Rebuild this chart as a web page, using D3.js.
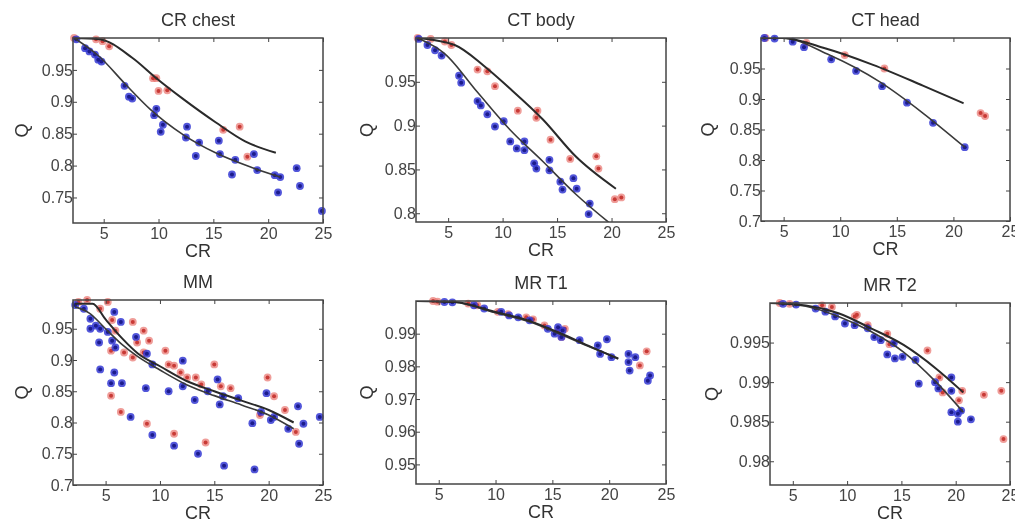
<!DOCTYPE html>
<html>
<head>
<meta charset="utf-8">
<script src="https://cdn.jsdelivr.net/npm/d3@7"></script>
<style>
  body { margin: 0; background: #fff; }
  svg { display: block; font-family: "Liberation Sans", Arial, sans-serif; filter: blur(0.45px); }
</style>
</head>
<body>
<svg id="chart" width="1034" height="524"></svg>
<script>
// ---- data: [CR, Q] ----
const titles = ['CR chest', 'CT body', 'CT head', 'MM', 'MR T1', 'MR T2'];
const xTicks = [5, 10, 15, 20, 25];

const chestRed = [[2.3,1.0],[4.3,0.998],[4.9,0.995],[5.5,0.987],[9.5,0.937],[9.8,0.937],[10.0,0.917],[10.8,0.918],
  [15.9,0.856],[17.4,0.861],[18.1,0.814]];
const chestBlue = [[2.5,0.998],[3.3,0.984],[3.7,0.979],[4.2,0.974],[4.5,0.966],[4.8,0.963],[6.9,0.925],[7.3,0.908],
  [7.6,0.905],[9.8,0.889],[9.6,0.879],[10.4,0.864],[10.2,0.853],[12.6,0.861],[12.5,0.844],[13.7,0.836],[13.4,0.815],
  [15.5,0.839],[15.6,0.818],[16.7,0.786],[17.0,0.809],[18.7,0.818],[19.0,0.793],[20.6,0.785],[21.1,0.782],
  [20.9,0.758],[22.6,0.796],[22.9,0.768],[24.9,0.729]];
const chestRedFit = [[2.3,1.0],[4.6,0.998],[7.6,0.969],[9.8,0.937],[12.2,0.905],[15.2,0.868],[17.9,0.838],[20.7,0.82]];
const chestBlueFit = [[2.3,1.0],[4.6,0.971],[6.9,0.929],[9.2,0.889],[12.2,0.849],[15.2,0.82],[18.5,0.797],[21.1,0.782]];

const bodyRed = [[2.2,1.0],[3.4,0.999],[4.7,0.996],[5.3,0.992],[7.7,0.964],[8.6,0.962],[9.3,0.945],[11.4,0.917],
  [13.2,0.917],[13.1,0.909],[14.4,0.884],[16.2,0.862],[18.6,0.865],[18.8,0.851],[20.3,0.816],[20.9,0.818]];
const bodyBlue = [[2.3,0.999],[3.1,0.992],[3.8,0.986],[4.4,0.98],[6.0,0.957],[6.2,0.949],[7.7,0.928],[8.0,0.923],
  [8.6,0.913],[9.3,0.899],[10.1,0.905],[10.7,0.882],[11.3,0.874],[12.0,0.882],[12.0,0.872],[12.9,0.857],[13.1,0.851],
  [14.3,0.861],[14.3,0.849],[15.3,0.836],[15.5,0.827],[16.5,0.84],[16.8,0.828],[18.0,0.811],[17.9,0.799]];
const bodyRedFit = [[2.2,1.0],[5.6,0.992],[8.3,0.968],[10.7,0.942],[13.7,0.907],[16.7,0.865],[20.4,0.828]];
const bodyBlueFit = [[2.2,1.0],[4.7,0.982],[7.7,0.938],[10.7,0.895],[13.7,0.859],[16.7,0.822],[20.2,0.785]];

const headRed = [[3.4,1.0],[7.0,0.992],[10.4,0.972],[13.9,0.95],[22.4,0.877],[22.8,0.872]];
const headBlue = [[3.3,1.0],[4.2,0.999],[5.8,0.994],[6.8,0.985],[9.2,0.965],[11.4,0.946],[13.7,0.921],[15.9,0.894],
  [18.2,0.861],[21.0,0.821]];
const headRedFit = [[3,1.0],[4.9,1.0],[8.5,0.984],[12.9,0.956],[17.3,0.922],[20.9,0.893]];
const headBlueFit = [[3,1.0],[4.9,1.0],[9.05,0.972],[13.5,0.928],[17.3,0.877],[21,0.821]];

const mmRed = [[2.5,0.993],[3.3,0.996],[5.2,0.993],[4.5,0.982],[5.6,0.964],[5.9,0.947],[7.5,0.961],[8.5,0.947],
  [9.0,0.931],[7.9,0.928],[5.5,0.915],[6.7,0.912],[7.5,0.904],[8.5,0.912],[10.5,0.915],[10.8,0.893],[11.3,0.891],
  [11.9,0.88],[12.5,0.872],[13.3,0.872],[13.8,0.861],[15.0,0.893],[15.6,0.858],[16.5,0.855],[5.5,0.843],[6.4,0.817],
  [8.8,0.798],[11.3,0.782],[14.2,0.768],[19.9,0.872],[20.5,0.842],[21.5,0.82],[19.2,0.812],[22.5,0.785]];
const mmBlue = [[2.2,0.988],[3.0,0.982],[3.6,0.966],[4.1,0.955],[3.6,0.95],[4.5,0.95],[5.2,0.945],[5.8,0.977],
  [6.4,0.961],[5.6,0.931],[5.9,0.92],[4.4,0.928],[4.5,0.885],[5.8,0.88],[5.5,0.863],[6.5,0.863],[7.3,0.809],
  [7.8,0.937],[8.8,0.91],[9.3,0.893],[8.7,0.855],[9.3,0.78],[10.8,0.85],[11.3,0.763],[12.1,0.899],[12.1,0.858],
  [13.2,0.836],[13.5,0.75],[14.4,0.85],[15.3,0.869],[15.5,0.829],[15.8,0.842],[15.9,0.731],[17.2,0.839],[18.5,0.799],
  [18.7,0.725],[19.8,0.847],[19.3,0.817],[20.5,0.809],[20.2,0.804],[21.8,0.79],[22.7,0.826],[22.8,0.766],
  [23.2,0.798],[24.7,0.809]];
const mmRedFit = [[2.2,0.99],[3.8,0.99],[5,0.965],[6.5,0.935],[8,0.91],[10,0.89],[12.5,0.866],[15,0.85],
  [17.5,0.835],[20,0.82],[22.3,0.8]];
const mmBlueFit = [[2.2,0.985],[3.5,0.975],[5,0.95],[6.5,0.925],[8,0.905],[10,0.884],[12.5,0.86],[15,0.843],
  [17.5,0.828],[20,0.812],[22.3,0.79]];

const t1Red = [[4.5,1.0],[4.9,0.9998],[7.6,0.9992],[8.4,0.9987],[10.2,0.9967],[11.1,0.996],[12.7,0.995],[13.3,0.9944],
  [14.3,0.9925],[15.5,0.991],[15.8,0.989],[16.1,0.9915],[22.7,0.9803],[23.3,0.9846]];
const t1Blue = [[5.5,0.9997],[6.2,0.9996],[8.1,0.9987],[9.0,0.9977],[10.5,0.9967],[11.2,0.9956],[12.0,0.995],
  [13.0,0.9941],[14.6,0.9915],[15.2,0.99],[15.5,0.992],[15.9,0.991],[15.8,0.989],[17.4,0.988],[19.0,0.9864],
  [19.2,0.9838],[19.8,0.9883],[20.2,0.9828],[21.7,0.9838],[21.7,0.9813],[21.8,0.9787],[22.3,0.9828],
  [23.4,0.9756],[23.6,0.9772]];
const t1RedFit = [[3,1.0],[6.4,0.9997],[9.9,0.9967],[12.9,0.994],[15.8,0.99],[18.1,0.9864],[20.8,0.9823]];
const t1BlueFit = [[3,1.0],[6.4,0.9996],[9.9,0.9965],[12.9,0.9937],[15.8,0.9897],[18.1,0.9862],[20.8,0.9825]];

const t2Red = [[3.8,1.0],[4.7,0.9999],[7.7,0.9997],[8.6,0.9995],[10.7,0.9983],[10.9,0.9985],[11.9,0.9972],
  [13.7,0.9961],[13.9,0.9948],[17.4,0.994],[18.5,0.9906],[18.8,0.9887],[20.6,0.9889],[20.3,0.9877],[22.6,0.9884],
  [24.2,0.9889],[24.4,0.9828]];
const t2Blue = [[4.1,0.9999],[5.3,0.9998],[7.1,0.9993],[8.0,0.9989],[8.9,0.9983],[9.8,0.9974],[10.7,0.9972],
  [11.9,0.9968],[12.5,0.9957],[13.1,0.9953],[14.3,0.9949],[13.7,0.9935],[14.4,0.993],[15.1,0.9932],[16.3,0.9928],
  [16.6,0.9898],[18.1,0.99],[18.4,0.9892],[19.6,0.9906],[19.6,0.9889],[19.6,0.9862],[20.2,0.986],[20.2,0.985],
  [20.5,0.9864],[21.4,0.9853]];
const t2RedFit = [[2.9,1.0],[6.2,0.9997],[9.2,0.9987],[12.2,0.9968],[15.2,0.9947],[18.2,0.9917],[20.7,0.9887]];
const t2BlueFit = [[2.9,1.0],[6.2,0.9996],[9.2,0.9983],[12.2,0.9964],[15.2,0.9938],[18.2,0.99],[20.7,0.9862]];

const yTicksChest = [0.75, 0.8, 0.85, 0.9, 0.95];
const yTicksBody = [0.8, 0.85, 0.9, 0.95];
const yTicksWide = [0.7, 0.75, 0.8, 0.85, 0.9, 0.95];
const yTicksT1 = [0.95, 0.96, 0.97, 0.98, 0.99];
const yTicksT2 = [0.98, 0.985, 0.99, 0.995];

// ---- layout (pixel boxes of each axes) ----
const panels = [
  {title: titles[0], red: chestRed, blue: chestBlue, redFit: chestRedFit, blueFit: chestBlueFit,
   xd: [2.2, 25], yd: [0.71, 1.0], yt: yTicksChest, l: 73, r: 323, t: 38, b: 223, qx: 22},
  {title: titles[1], red: bodyRed, blue: bodyBlue, redFit: bodyRedFit, blueFit: bodyBlueFit,
   xd: [2.05, 25], yd: [0.79, 1.0], yt: yTicksBody, l: 416, r: 666, t: 38, b: 222, qx: 367},
  {title: titles[2], red: headRed, blue: headBlue, redFit: headRedFit, blueFit: headBlueFit,
   xd: [3, 25], yd: [0.7, 1.0], yt: yTicksWide, l: 761, r: 1010, t: 38, b: 221, qx: 708},
  {title: titles[3], red: mmRed, blue: mmBlue, redFit: mmRedFit, blueFit: mmBlueFit,
   xd: [2, 25], yd: [0.7, 0.996], yt: yTicksWide, l: 73, r: 323, t: 300, b: 485, qx: 22},
  {title: titles[4], red: t1Red, blue: t1Blue, redFit: t1RedFit, blueFit: t1BlueFit,
   xd: [3, 25], yd: [0.944, 1.0], yt: yTicksT1, l: 416, r: 666, t: 301, b: 484, qx: 367},
  {title: titles[5], red: t2Red, blue: t2Blue, redFit: t2RedFit, blueFit: t2BlueFit,
   xd: [2.9, 25], yd: [0.977, 1.0], yt: yTicksT2, l: 770, r: 1010, t: 303, b: 485, qx: 712}
];

const svg = d3.select('#chart');
const axisColor = '#444';

panels.forEach((p, i) => {
  const x = d3.scaleLinear().domain(p.xd).range([p.l, p.r]);
  const y = d3.scaleLinear().domain(p.yd).range([p.b, p.t]);
  const g = svg.append('g');

  // only the fitted lines get clipped; markers may sit on the box edge
  const clipId = 'clip' + i;
  svg.append('clipPath').attr('id', clipId)
    .append('rect').attr('x', p.l).attr('y', p.t).attr('width', p.r - p.l).attr('height', p.b - p.t);

  const plot = g.append('g');

  // points: soft disc with darker core
  function dots(data, fill, core, op) {
    const s = plot.append('g');
    s.selectAll('circle.o').data(data).join('circle').attr('class', 'o')
      .attr('cx', d => x(d[0])).attr('cy', d => y(d[1])).attr('r', 3.9)
      .attr('fill', fill).attr('fill-opacity', op);
    s.selectAll('circle.c').data(data).join('circle').attr('class', 'c')
      .attr('cx', d => x(d[0])).attr('cy', d => y(d[1])).attr('r', 2)
      .attr('fill', core);
  }
  dots(p.red, '#e8736e', '#c83a36', 0.7);
  dots(p.blue, '#3438d4', '#1c1c8c', 0.85);

  const line = d3.line().curve(d3.curveMonotoneX).x(d => x(d[0])).y(d => y(d[1]));
  const fits = plot.append('g').attr('clip-path', `url(#${clipId})`);
  fits.append('path').datum(p.blueFit).attr('d', line)
    .attr('fill', 'none').attr('stroke', '#3a3a3a').attr('stroke-width', 1.6);
  fits.append('path').datum(p.redFit).attr('d', line)
    .attr('fill', 'none').attr('stroke', '#2a2a2a').attr('stroke-width', 2);

  // MATLAB-style box with inward ticks on all sides
  const ax = g.append('g');
  const fmt = d => String(d);
  const bottom = ax.append('g').attr('transform', `translate(0,${p.b})`)
    .call(d3.axisBottom(x).tickValues(xTicks).tickSize(-4).tickPadding(5).tickFormat(fmt));
  const top = ax.append('g').attr('transform', `translate(0,${p.t})`)
    .call(d3.axisTop(x).tickValues(xTicks).tickSize(-4).tickFormat(''));
  const left = ax.append('g').attr('transform', `translate(${p.l},0)`)
    .call(d3.axisLeft(y).tickValues(p.yt).tickSize(-4).tickPadding(0).tickFormat(fmt));
  const right = ax.append('g').attr('transform', `translate(${p.r},0)`)
    .call(d3.axisRight(y).tickValues(p.yt).tickSize(-4).tickFormat(''));
  [bottom, top, left, right].forEach(a => {
    a.select('.domain').remove();
    a.selectAll('line').attr('stroke', axisColor);
    a.selectAll('text').attr('fill', '#444').attr('font-size', 16)
      .attr('font-family', '"Liberation Sans", Arial, sans-serif');
  });

  g.append('rect').attr('x', p.l).attr('y', p.t).attr('width', p.r - p.l).attr('height', p.b - p.t)
    .attr('fill', 'none').attr('stroke', axisColor).attr('stroke-width', 1.5);

  // titles and axis labels
  g.append('text').attr('x', (p.l + p.r) / 2).attr('y', p.t - 12).attr('text-anchor', 'middle')
    .attr('font-size', 18).attr('fill', '#333').text(p.title);
  g.append('text').attr('x', (p.l + p.r) / 2).attr('y', p.b + 34).attr('text-anchor', 'middle')
    .attr('font-size', 18).attr('fill', '#333').text('CR');
  g.append('text').attr('transform', `translate(${p.qx + 6},${(p.t + p.b) / 2}) rotate(-90)`)
    .attr('text-anchor', 'middle').attr('font-size', 18).attr('fill', '#333').text('Q');
});

// the source picture is cropped at its right edge
svg.append('rect').attr('x', 1015).attr('y', 0).attr('width', 19).attr('height', 524).attr('fill', '#fff');
</script>
</body>
</html>
